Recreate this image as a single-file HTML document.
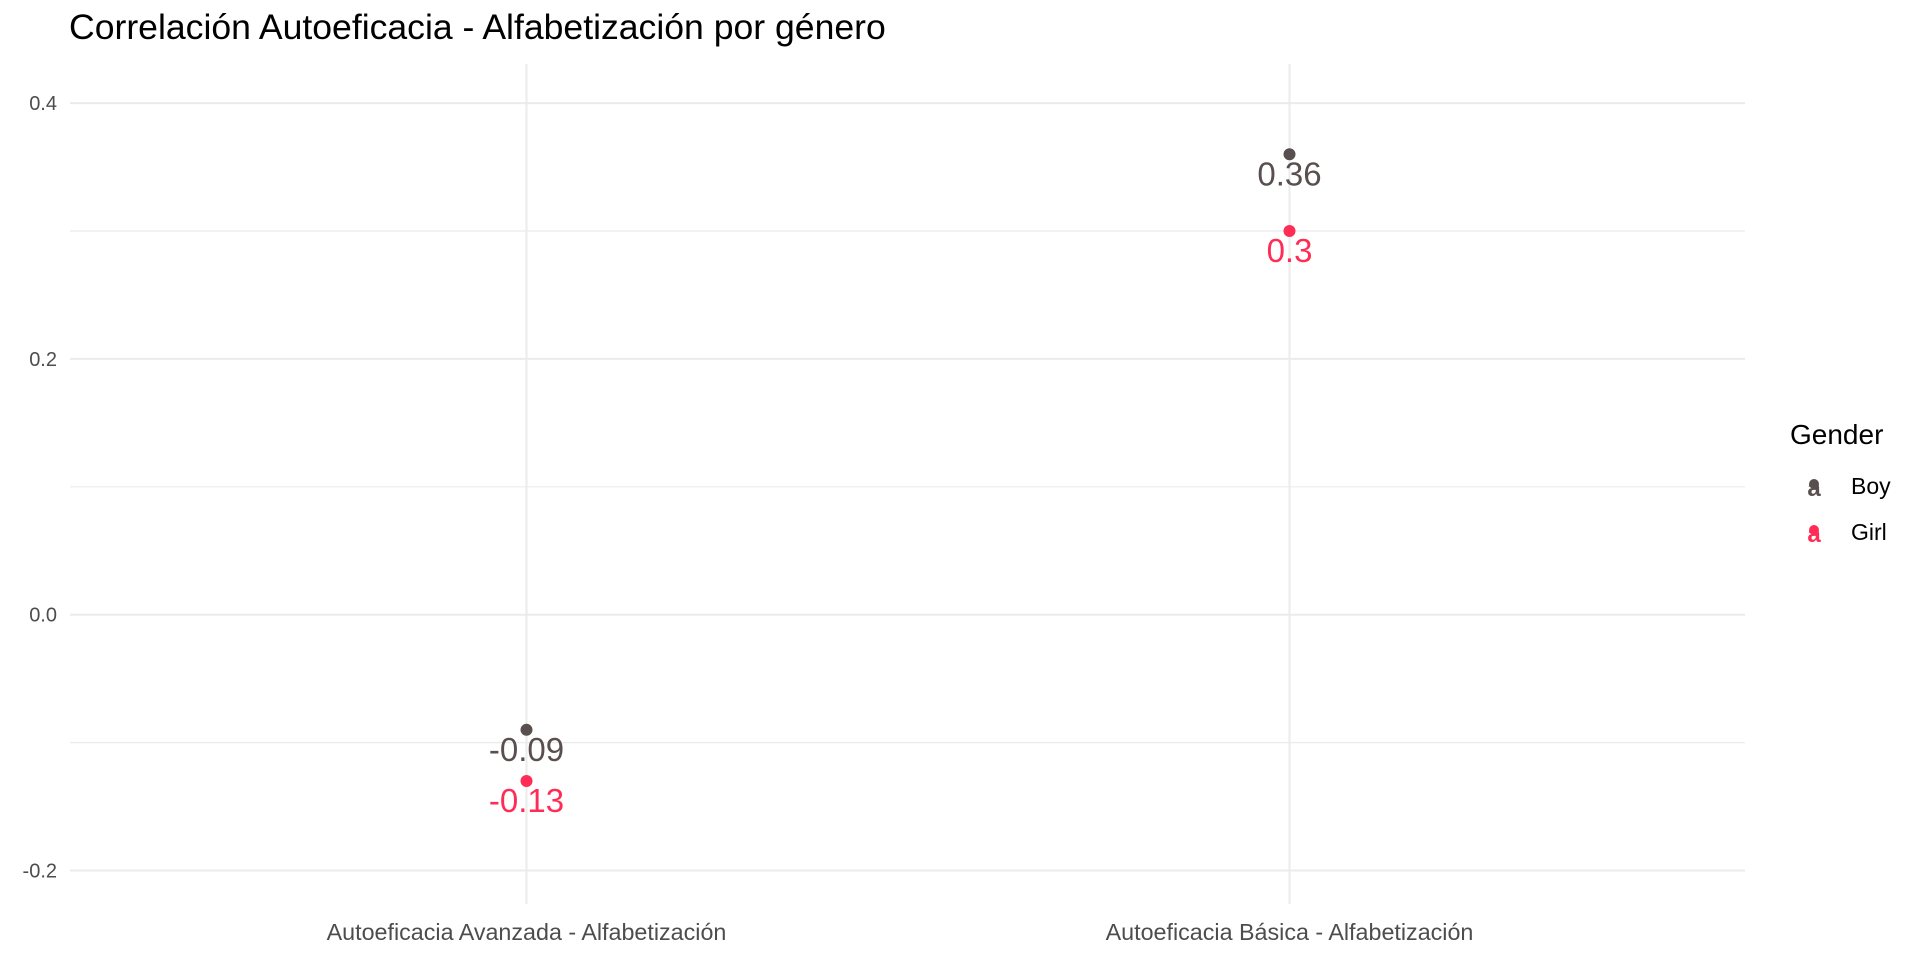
<!DOCTYPE html>
<html><head><meta charset="utf-8"><style>
body{margin:0;background:#fff;font-family:"Liberation Sans",sans-serif}
svg text{font-family:"Liberation Sans",sans-serif}
</style></head><body>
<svg id="chart" width="1920" height="960">
<text x="69" y="39" font-size="35.6" fill="#000">Correlación Autoeficacia - Alfabetización por género</text>
<g id="grid"></g><g id="marks"></g>
<g>
<text x="1790" y="444" font-size="28" fill="#000">Gender</text>
<g><text x="1814" y="496" text-anchor="middle" font-size="24" font-weight="bold" fill="#5a4f4f">a</text><circle cx="1814" cy="484" r="5" fill="#5a4f4f"/><text x="1851" y="494" font-size="23" fill="#000">Boy</text></g>
<g><text x="1814" y="542" text-anchor="middle" font-size="24" font-weight="bold" fill="#ff2d55">a</text><circle cx="1814" cy="530" r="5" fill="#ff2d55"/><text x="1851" y="540" font-size="23" fill="#000">Girl</text></g>
</g>
</svg>
<script>
const categories=["Autoeficacia Avanzada - Alfabetización","Autoeficacia Básica - Alfabetización"];
const boyValues=[-0.09,0.36];
const girlValues=[-0.13,0.30];
const boyLabels=["-0.09","0.36"];
const girlLabels=["-0.13","0.3"];
const yTicks=[-0.2,0.0,0.2,0.4];
const yTickLabels=["-0.2","0.0","0.2","0.4"];
const NS="http://www.w3.org/2000/svg";
const y=v=>614.7-v*1279;
const x=i=>526.5+i*763;
const grid=document.getElementById('grid'),marks=document.getElementById('marks');
function el(t,a,p){const e=document.createElementNS(NS,t);for(const k in a)e.setAttribute(k,a[k]);p.appendChild(e);return e;}
for(let v=-0.2;v<=0.401;v+=0.1){const l=el('line',{x1:70,x2:1745,y1:y(v),y2:y(v),stroke:'#ebebeb','stroke-width':Math.abs(Math.round(v*10))%2===0?2:1.2},grid);

}
yTicks.forEach((v,i)=>{const t=el('text',{x:57,y:y(v)+7,'text-anchor':'end','font-size':20,fill:'#4d4d4d'},grid);t.textContent=yTickLabels[i];

});
categories.forEach((c,i)=>{const l=el('line',{x1:x(i),x2:x(i),y1:64,y2:904,stroke:'#ebebeb','stroke-width':2},grid);


const t=el('text',{x:x(i),y:940,'text-anchor':'middle','font-size':23.3,fill:'#4d4d4d'},grid);t.textContent=c;

});
function series(vals,labs,col,name){vals.forEach((v,i)=>{const p=el('circle',{cx:x(i),cy:y(v),r:6,fill:col},marks);


const t=el('text',{x:x(i),y:y(v)+31,'text-anchor':'middle','font-size':33,fill:col},marks);t.textContent=labs[i];

});}
series(boyValues,boyLabels,'#5a4f4f','boy');
series(girlValues,girlLabels,'#ff2d55','girl');
</script>
</body></html>
